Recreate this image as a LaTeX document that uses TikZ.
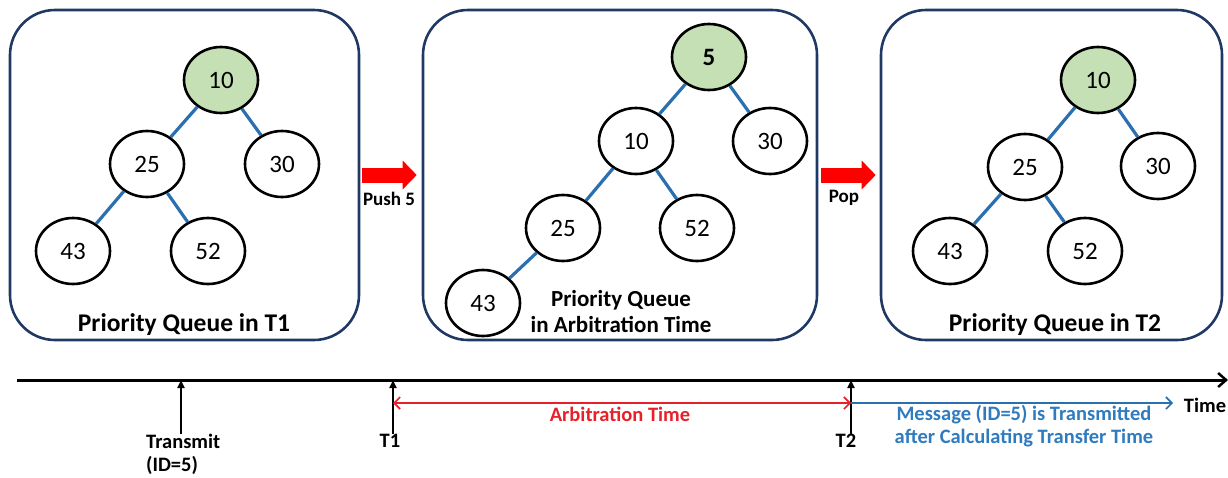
\documentclass[tikz,border=0pt]{standalone}
\usepackage{fontspec}
\setmainfont{Carlito}
\usetikzlibrary{arrows.meta,shapes.geometric}

\definecolor{boxline}{HTML}{1F3864}
\definecolor{rootfill}{HTML}{C5E0B4}
\definecolor{edgeblue}{HTML}{2A70B0}
\definecolor{arbred}{HTML}{E8202A}
\definecolor{msgblue}{HTML}{2E7BBF}

\tikzset{
  queuebox/.style={draw=boxline, line width=2.6pt, rounded corners=45pt,
    minimum width=349pt, minimum height=330pt},
  heapnode/.style={draw=black, fill=white, ellipse, line width=2.6pt,
    minimum width=74pt, minimum height=66pt, inner sep=0pt,
    font=\fontsize{25}{27}\selectfont},
  rootnode/.style={heapnode, fill=rootfill},
  heapedge/.style={draw=edgeblue, line width=3.2pt},
  qtitle/.style={font=\bfseries\fontsize{25.5}{27}\selectfont, align=center},
  opshift/.style={draw=red, line width=15pt, -{Triangle[length=14pt,width=28pt]}},
  oplabel/.style={font=\bfseries\fontsize{19}{20}\selectfont},
  timeline/.style={draw=black, line width=3pt, -{Straight Barb[length=8pt,width=14pt,line width=2.5pt]}},
  ticker/.style={draw=black, line width=2pt, -{Triangle[length=8pt,width=7pt]}},
  tlabel/.style={font=\bfseries\fontsize{20.5}{23}\selectfont, align=left, inner sep=0pt},
  spanred/.style={draw=arbred, line width=1.6pt,
    {Straight Barb[length=6pt,width=12pt,line width=1.6pt]}-{Straight Barb[length=6pt,width=12pt,line width=1.6pt]}},
  spanblue/.style={draw=edgeblue, line width=1.6pt,
    -{Straight Barb[length=6pt,width=12pt,line width=1.6pt]}},
}

\begin{document}
\begin{tikzpicture}[x=1pt,y=-1pt]
\useasboundingbox (0,0) rectangle (1228,477);

% three snapshots of the heap
\node[queuebox] (b1) at (184.5,175) {};
\node[queuebox, minimum width=394pt] (b2) at (620,175) {};
\node[queuebox, minimum width=341pt] (b3) at (1051.5,175) {};

% snapshot at T1
\node[rootnode] (a10) at (221,80) {10};
\node[heapnode] (a25) at (147,164) {25};
\node[heapnode] (a30) at (282,164) {30};
\node[heapnode] (a43) at (73,251) {43};
\node[heapnode] (a52) at (208,251) {52};
\draw[heapedge] (a10) -- (a25);
\draw[heapedge] (a10) -- (a30);
\draw[heapedge] (a25) -- (a43);
\draw[heapedge] (a25) -- (a52);
\node[qtitle] (t1) at (184,325) {Priority Queue in T1};

% snapshot during arbitration
\node[rootnode, font=\bfseries\fontsize{25}{27}\selectfont] (c5) at (709,57) {5};
\node[heapnode] (c10) at (636,141) {10};
\node[heapnode] (c30) at (770,141) {30};
\node[heapnode] (c25) at (563,228) {25};
\node[heapnode] (c52) at (697,228) {52};
\node[heapnode] (c43) at (483,303) {43};
\draw[heapedge] (c5) -- (c10);
\draw[heapedge] (c5) -- (c30);
\draw[heapedge] (c10) -- (c25);
\draw[heapedge] (c10) -- (c52);
\draw[heapedge] (c25) -- (c43);
\node[qtitle, font=\bfseries\fontsize{23}{26}\selectfont] (t2) at (621,312) {Priority Queue\\in Arbitration Time};

% snapshot at T2
\node[rootnode] (d10) at (1098,80) {10};
\node[heapnode] (d25) at (1025,167) {25};
\node[heapnode] (d30) at (1158,166) {30};
\node[heapnode] (d43) at (950,251) {43};
\node[heapnode] (d52) at (1085,251) {52};
\draw[heapedge] (d10) -- (d25);
\draw[heapedge] (d10) -- (d30);
\draw[heapedge] (d25) -- (d43);
\draw[heapedge] (d25) -- (d52);
\node[qtitle] (t3) at (1055,325) {Priority Queue in T2};

% operations between snapshots
\draw[opshift] ([xshift=2pt]b1.east) -- ([xshift=-5pt]b2.west);
\node[oplabel] (push) at (389,199) {Push 5};
\draw[opshift] ([xshift=3pt]b2.east) -- ([xshift=-4pt]b3.west);
\node[oplabel] (pop) at (844,198) {Pop};

% time axis
\coordinate (ax0) at (17,380);
\coordinate (ax1) at (1228,380);
\draw[timeline] (ax0) -- (ax1);
\node[tlabel] (timelbl) at (1205,405) {Time};

\coordinate (tx) at (181,380);
\coordinate (tt1) at (393,380);
\coordinate (tt2) at (851,380);
\node[tlabel, anchor=north west] (txl) at (146,434) {Transmit\\(ID=5)};
\node[tlabel, anchor=north] (t1l) at (390,434) {T1};
\node[tlabel, anchor=north] (t2l) at (846,434) {T2};
\draw[ticker] (txl.north -| tx) -- (tx);
\draw[ticker] (t1l.north -| tt1) -- (tt1);
\draw[ticker] (t2l.north -| tt2) -- (tt2);

% arbitration interval and transfer
\coordinate (s1) at (393,403);
\coordinate (s2) at (851,403);
\coordinate (s3) at (1173,403);
\draw[spanred] (s1) -- (s2);
\draw[spanblue] (s2) -- (s3);
\node[tlabel, text=arbred] (arb) at (620,414) {Arbitration Time};
\node[tlabel, text=msgblue, align=center] (msg) at (1024,426) {Message (ID=5) is Transmitted\\after Calculating Transfer Time};
\end{tikzpicture}
\end{document}
